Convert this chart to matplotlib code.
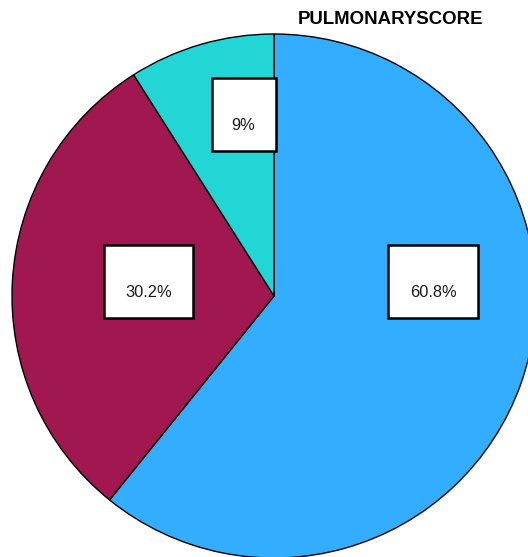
import matplotlib.pyplot as plt
from matplotlib.patches import Rectangle

plt.rcParams['font.family'] = ['Liberation Sans', 'DejaVu Sans']

# pulmonary score shares, clockwise from 12 o'clock
categories = ['High', 'Medium', 'Low']
shares = [60.8, 30.2, 9.0]
labels = ['60.8%', '30.2%', '9%']
colors = ['#33adff', '#a0184f', '#22d6d6']

# label box centres and sizes in pixel coordinates (x, y from top)
box_centers = [(433, 281.5), (148.5, 281.5), (243.5, 114.5)]
box_sizes = [(90, 73), (89, 73), (64, 73)]

W, H = 528, 557
fig = plt.figure(figsize=(W / 100, H / 100), dpi=100)
ax = fig.add_axes([0, 0, 1, 1])

ax.pie(shares, colors=colors, startangle=90, counterclock=False,
       center=(274, H - 296), radius=262, frame=True,
       wedgeprops=dict(edgecolor='black', linewidth=1.0))

for (cx, cy), (bw, bh), lab in zip(box_centers, box_sizes, labels):
    y = H - cy
    ax.add_patch(Rectangle((cx - bw / 2, y - bh / 2), bw, bh,
                           facecolor='white', edgecolor='black',
                           linewidth=1.8, zorder=5))
    ax.text(cx, y - 11, lab, ha='center', va='center', fontsize=11.8,
            color='#1a1a1a', zorder=6)

ax.text(390.5, H - 20, 'PULMONARYSCORE', ha='center', va='center',
        fontsize=13.4, fontweight='bold', color='black')

ax.set_xlim(0, W)
ax.set_ylim(0, H)
ax.set_aspect('equal')
ax.axis('off')

fig.savefig('out.png', dpi=100)
